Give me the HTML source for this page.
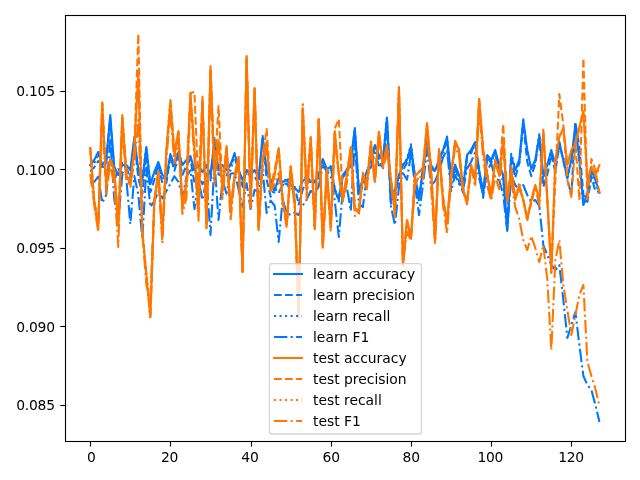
<!DOCTYPE html>
<html><head><meta charset="utf-8"><title>plot</title><style>html,body{margin:0;padding:0;background:#fff;overflow:hidden}svg{display:block}text{font-family:"DejaVu Sans","Liberation Sans",sans-serif;font-size:13.889px;fill:#000}.t{letter-spacing:-0.22px}</style></head><body>
<svg width="640" height="480" viewBox="0 0 640 480">
<rect x="0" y="0" width="640" height="480" fill="#fff"/>
<defs><clipPath id="ax"><rect x="64.75" y="15" width="560.2" height="426.3"/></clipPath></defs>
<g clip-path="url(#ax)">
<polyline points="90.21,165.00 94.22,160.00 98.23,152.00 102.24,165.00 106.25,160.00 110.26,115.00 114.27,167.00 118.28,175.00 122.29,165.00 126.30,165.00 130.31,170.00 134.32,137.00 138.33,170.00 142.34,180.00 146.35,147.00 150.36,184.00 154.37,172.00 158.37,162.00 162.38,175.00 166.39,178.00 170.40,154.00 174.41,165.00 178.42,152.00 182.43,165.00 186.44,160.00 190.45,156.00 194.46,170.00 198.47,165.00 202.48,172.00 206.49,165.00 210.50,175.00 214.51,140.00 218.52,170.00 222.53,165.00 226.54,170.00 230.55,165.00 234.56,153.00 238.57,170.00 242.58,180.00 246.59,170.00 250.60,175.00 254.61,170.00 258.62,178.00 262.63,138.00 266.64,170.00 270.65,180.00 274.66,190.00 278.67,178.00 282.68,182.00 286.69,180.00 290.69,185.00 294.70,188.00 298.71,192.00 302.72,181.00 306.73,178.00 310.74,182.00 314.75,181.00 318.76,175.00 322.77,159.00 326.78,169.00 330.79,167.00 334.80,190.00 338.81,200.00 342.82,175.00 346.83,170.00 350.84,160.00 354.85,128.00 358.86,190.00 362.87,180.00 366.88,172.00 370.89,160.00 374.90,145.00 378.91,155.00 382.92,160.00 386.93,118.00 390.94,195.00 394.95,190.00 398.96,175.00 402.97,165.00 406.98,160.00 410.99,146.00 415.00,177.00 419.01,197.00 423.02,170.00 427.02,142.00 431.03,165.00 435.04,171.00 439.05,160.00 443.06,150.00 447.07,137.00 451.08,177.00 455.09,165.00 459.10,175.00 463.11,187.00 467.12,155.00 471.13,150.00 475.14,142.00 479.15,170.00 483.16,192.00 487.17,155.00 491.18,160.00 495.19,150.00 499.20,165.00 503.21,175.00 507.22,230.00 511.23,156.00 515.24,170.00 519.25,160.00 523.26,120.00 527.27,150.00 531.28,169.00 535.29,160.00 539.30,136.00 543.31,175.00 547.32,165.00 551.33,150.00 555.34,165.00 559.34,142.00 563.35,160.00 567.36,177.00 571.37,160.00 575.38,124.00 579.39,160.00 583.40,205.00 587.41,192.00 591.42,170.00 595.43,180.00 599.44,192.00" stroke="#0077ff" stroke-width="2.083" fill="none" stroke-linejoin="round" stroke-linecap="square"/>
<polyline points="90.21,171.60 94.22,167.28 98.23,161.07 102.24,164.67 106.25,163.03 110.26,118.00 114.27,181.00 118.28,169.20 122.29,173.20 126.30,168.30 130.31,178.16 134.32,140.54 138.33,177.82 142.34,193.82 146.35,154.77 150.36,192.17 154.37,179.86 158.37,164.25 162.38,183.72 166.39,182.96 170.40,155.94 174.41,170.81 178.42,156.86 182.43,174.77 186.44,165.79 190.45,159.35 194.46,183.28 198.47,175.94 202.48,184.35 206.49,174.04 210.50,180.45 214.51,143.90 218.52,174.60 222.53,175.74 226.54,176.56 230.55,163.59 234.56,158.80 238.57,168.92 242.58,186.83 246.59,169.98 250.60,174.68 254.61,176.59 258.62,183.61 262.63,135.69 266.64,179.74 270.65,196.82 274.66,188.59 278.67,193.10 282.68,184.56 286.69,183.53 290.69,190.11 294.70,186.77 298.71,204.50 302.72,189.46 306.73,180.24 310.74,182.59 314.75,182.34 318.76,175.13 322.77,160.11 326.78,173.23 330.79,166.13 334.80,189.73 338.81,197.01 342.82,177.30 346.83,172.01 350.84,165.53 354.85,131.57 358.86,193.31 362.87,185.90 366.88,171.18 370.89,162.84 374.90,146.94 378.91,158.48 382.92,168.20 386.93,119.10 390.94,203.63 394.95,192.95 398.96,180.61 402.97,170.13 406.98,163.03 410.99,149.10 415.00,179.24 419.01,201.87 423.02,167.96 427.02,137.83 431.03,167.82 435.04,171.06 439.05,160.38 443.06,149.86 447.07,143.57 451.08,185.31 455.09,167.71 459.10,181.81 463.11,192.57 467.12,156.88 471.13,152.84 475.14,142.87 479.15,171.98 483.16,197.79 487.17,157.07 491.18,163.05 495.19,151.14 499.20,172.60 503.21,175.14 507.22,228.00 511.23,158.31 515.24,177.78 519.25,163.03 523.26,124.39 527.27,161.96 531.28,176.08 535.29,164.02 539.30,135.74 543.31,186.80 547.32,174.66 551.33,154.37 555.34,172.22 559.34,142.85 563.35,160.93 567.36,178.87 571.37,195.00 575.38,122.00 579.39,147.00 583.40,195.00 587.41,201.92 591.42,176.86 595.43,191.19 599.44,192.00" stroke="#0077ff" stroke-width="2.083" fill="none" stroke-linejoin="round" stroke-linecap="butt" stroke-dasharray="7.708,3.333"/>
<polyline points="90.21,166.66 94.22,163.42 98.23,153.90 102.24,169.38 106.25,158.24 110.26,121.28 114.27,166.66 118.28,176.51 122.29,162.87 126.30,168.80 130.31,175.82 134.32,142.21 138.33,174.50 142.34,177.33 146.35,146.65 150.36,184.61 154.37,171.20 158.37,167.37 162.38,177.55 166.39,179.93 170.40,157.46 174.41,164.15 178.42,151.27 182.43,164.36 186.44,163.49 190.45,159.02 194.46,173.73 198.47,170.24 202.48,169.93 206.49,165.32 210.50,177.44 214.51,137.95 218.52,170.40 222.53,170.04 226.54,175.31 230.55,170.23 234.56,155.13 238.57,171.36 242.58,185.24 246.59,170.88 250.60,178.01 254.61,175.98 258.62,178.90 262.63,138.17 266.64,171.97 270.65,183.80 274.66,193.45 278.67,180.47 282.68,185.67 286.69,177.20 290.69,184.42 294.70,190.49 298.71,191.21 302.72,178.97 306.73,176.38 310.74,181.01 314.75,180.82 318.76,178.40 322.77,159.27 326.78,171.24 330.79,168.03 334.80,188.97 338.81,201.41 342.82,175.62 346.83,169.74 350.84,162.26 354.85,128.97 358.86,189.70 362.87,180.46 366.88,173.92 370.89,163.01 374.90,146.40 378.91,155.43 382.92,161.52 386.93,117.51 390.94,194.18 394.95,191.65 398.96,176.69 402.97,164.62 406.98,158.81 410.99,144.28 415.00,177.58 419.01,196.61 423.02,173.93 427.02,142.18 431.03,168.78 435.04,171.14 439.05,161.76 443.06,153.18 447.07,136.48 451.08,180.58 455.09,164.71 459.10,177.98 463.11,184.40 467.12,155.19 471.13,152.99 475.14,143.98 479.15,170.47 483.16,195.00 487.17,156.82 491.18,162.06 495.19,152.97 499.20,171.55 503.21,180.86 507.22,230.00 511.23,153.80 515.24,167.28 519.25,165.38 523.26,119.22 527.27,152.45 531.28,167.78 535.29,161.45 539.30,134.16 543.31,181.89 547.32,163.94 551.33,151.63 555.34,166.44 559.34,147.62 563.35,157.74 567.36,178.90 571.37,161.37 575.38,127.59 579.39,163.42 583.40,205.61 587.41,194.72 591.42,170.88 595.43,183.40 599.44,193.69" stroke="#0077ff" stroke-width="2.083" fill="none" stroke-linejoin="round" stroke-linecap="butt" stroke-dasharray="2.083,3.438"/>
<polyline points="90.21,182.41 94.22,181.81 98.23,176.55 102.24,202.86 106.25,195.00 110.26,139.15 114.27,199.24 118.28,222.00 122.29,174.80 126.30,178.68 130.31,224.00 134.32,176.08 138.33,194.74 142.34,239.00 146.35,167.45 150.36,207.00 154.37,201.00 158.37,191.13 162.38,198.29 166.39,190.91 170.40,183.82 174.41,176.23 178.42,181.94 182.43,197.16 186.44,176.65 190.45,170.24 194.46,209.00 198.47,179.33 202.48,200.03 206.49,178.63 210.50,235.00 214.51,162.66 218.52,220.00 222.53,180.73 226.54,193.66 230.55,173.75 234.56,173.07 238.57,189.23 242.58,206.75 246.59,183.22 250.60,208.99 254.61,189.82 258.62,192.03 262.63,169.70 266.64,213.00 270.65,200.69 274.66,205.76 278.67,242.00 282.68,199.17 286.69,213.00 290.69,215.00 294.70,212.74 298.71,215.02 302.72,205.42 306.73,199.59 310.74,190.76 314.75,194.74 318.76,186.01 322.77,165.43 326.78,170.78 330.79,176.81 334.80,201.12 338.81,237.00 342.82,189.81 346.83,187.24 350.84,211.00 354.85,141.05 358.86,204.48 362.87,207.00 366.88,176.02 370.89,167.42 374.90,152.68 378.91,165.50 382.92,165.29 386.93,128.24 390.94,206.29 394.95,225.00 398.96,187.44 402.97,173.31 406.98,179.74 410.99,153.90 415.00,185.11 419.01,215.00 423.02,184.58 427.02,150.06 431.03,185.80 435.04,181.18 439.05,171.25 443.06,157.30 447.07,150.33 451.08,191.28 455.09,175.03 459.10,184.07 463.11,189.00 467.12,168.62 471.13,161.75 475.14,152.52 479.15,178.35 483.16,194.00 487.17,170.77 491.18,163.34 495.19,178.03 499.20,180.42 503.21,194.41 507.22,231.00 511.23,175.00 515.24,185.00 519.25,190.00 523.26,185.00 527.27,195.00 531.28,202.00 535.29,200.00 539.30,206.00 543.31,245.00 547.32,255.00 551.33,265.00 555.34,270.00 559.34,265.00 563.35,300.00 567.36,338.00 571.37,325.00 575.38,312.00 579.39,345.00 583.40,376.00 587.41,385.00 591.42,390.00 595.43,405.00 599.44,422.00" stroke="#0077ff" stroke-width="2.083" fill="none" stroke-linejoin="round" stroke-linecap="butt" stroke-dasharray="13.333,3.333,2.083,3.333"/>
<polyline points="90.21,148.00 94.22,200.00 98.23,225.00 102.24,103.00 106.25,185.00 110.26,160.00 114.27,170.00 118.28,225.00 122.29,115.00 126.30,175.00 130.31,183.00 134.32,150.00 138.33,73.00 142.34,232.00 146.35,275.00 150.36,317.00 154.37,200.00 158.37,172.00 162.38,235.00 166.39,150.00 170.40,103.00 174.41,156.00 178.42,131.00 182.43,208.00 186.44,185.00 190.45,94.00 194.46,150.00 198.47,211.00 202.48,101.00 206.49,225.00 210.50,66.00 214.51,175.00 218.52,140.00 222.53,190.00 226.54,146.00 230.55,210.00 234.56,175.00 238.57,157.00 242.58,272.00 246.59,56.00 250.60,205.00 254.61,89.00 258.62,228.00 262.63,160.00 266.64,142.00 270.65,190.00 274.66,175.00 278.67,148.00 282.68,200.00 286.69,225.00 290.69,166.00 294.70,200.00 298.71,316.00 302.72,109.00 306.73,190.00 310.74,137.00 314.75,226.00 318.76,119.00 322.77,245.00 326.78,170.00 330.79,227.00 334.80,131.00 338.81,175.00 342.82,200.00 346.83,175.00 350.84,147.00 354.85,209.00 358.86,213.00 362.87,175.00 366.88,185.00 370.89,144.00 374.90,180.00 378.91,132.00 382.92,165.00 386.93,145.00 390.94,180.00 394.95,210.00 398.96,87.00 402.97,264.00 406.98,220.00 410.99,238.00 415.00,176.00 419.01,172.00 423.02,169.00 427.02,123.00 431.03,170.00 435.04,240.00 439.05,149.00 443.06,200.00 447.07,222.00 451.08,175.00 455.09,141.00 459.10,150.00 463.11,190.00 467.12,201.00 471.13,165.00 475.14,180.00 479.15,99.00 483.16,150.00 487.17,175.00 491.18,195.00 495.19,160.00 499.20,175.00 503.21,140.00 507.22,202.00 511.23,170.00 515.24,200.00 519.25,185.00 523.26,200.00 527.27,220.00 531.28,200.00 535.29,185.00 539.30,200.00 543.31,131.00 547.32,200.00 551.33,273.00 555.34,160.00 559.34,137.00 563.35,128.00 567.36,165.00 571.37,150.00 575.38,144.00 579.39,127.00 583.40,111.00 587.41,180.00 591.42,167.00 595.43,175.00 599.44,165.00" stroke="#ff7700" stroke-width="2.083" fill="none" stroke-linejoin="round" stroke-linecap="square"/>
<polyline points="90.21,148.10 94.22,204.08 98.23,228.67 102.24,101.47 106.25,184.11 110.26,158.42 114.27,171.71 118.28,224.83 122.29,117.24 126.30,169.46 130.31,187.70 134.32,149.71 138.33,34.00 142.34,231.59 146.35,273.86 150.36,318.39 154.37,202.47 158.37,171.39 162.38,234.54 166.39,152.06 170.40,100.39 174.41,151.46 178.42,132.18 182.43,205.99 186.44,179.24 190.45,93.00 194.46,92.00 198.47,190.00 202.48,96.52 206.49,225.11 210.50,68.69 214.51,174.30 218.52,106.00 222.53,191.15 226.54,148.15 230.55,209.10 234.56,176.63 238.57,160.13 242.58,271.38 246.59,57.00 250.60,206.04 254.61,89.74 258.62,231.30 262.63,156.15 266.64,129.00 270.65,187.49 274.66,169.80 278.67,148.38 282.68,201.58 286.69,222.78 290.69,170.16 294.70,202.47 298.71,310.00 302.72,108.00 306.73,192.87 310.74,137.84 314.75,229.27 318.76,119.00 322.77,246.11 326.78,169.49 330.79,226.39 334.80,128.78 338.81,119.00 342.82,197.64 346.83,176.14 350.84,146.86 354.85,208.27 358.86,210.40 362.87,172.73 366.88,184.36 370.89,141.48 374.90,179.04 378.91,135.80 382.92,166.81 386.93,147.14 390.94,179.39 394.95,210.11 398.96,90.65 402.97,265.59 406.98,222.19 410.99,236.98 415.00,174.17 419.01,172.24 423.02,167.05 427.02,124.30 431.03,168.95 435.04,240.97 439.05,152.75 443.06,195.79 447.07,223.59 451.08,175.66 455.09,140.84 459.10,152.34 463.11,192.11 467.12,201.91 471.13,166.28 475.14,178.19 479.15,99.57 483.16,149.33 487.17,173.40 491.18,198.47 495.19,161.16 499.20,175.92 503.21,124.00 507.22,201.33 511.23,166.15 515.24,198.54 519.25,188.62 523.26,199.43 527.27,215.68 531.28,204.00 535.29,186.59 539.30,206.32 543.31,131.00 547.32,198.62 551.33,268.66 555.34,180.00 559.34,94.00 563.35,125.00 567.36,180.00 571.37,197.00 575.38,141.51 579.39,200.00 583.40,58.00 587.41,200.00 591.42,159.00 595.43,170.00 599.44,194.00" stroke="#ff7700" stroke-width="2.083" fill="none" stroke-linejoin="round" stroke-linecap="butt" stroke-dasharray="7.708,3.333"/>
<polyline points="90.21,147.37 94.22,200.49 98.23,221.79 102.24,100.83 106.25,186.19 110.26,159.11 114.27,170.87 118.28,225.81 122.29,116.98 126.30,176.22 130.31,184.53 134.32,149.83 138.33,71.95 142.34,230.90 146.35,274.27 150.36,315.31 154.37,199.18 158.37,171.86 162.38,235.38 166.39,149.49 170.40,100.11 174.41,155.89 178.42,131.34 182.43,209.63 186.44,185.87 190.45,93.03 194.46,148.91 198.47,214.02 202.48,102.13 206.49,227.75 210.50,69.19 214.51,173.77 218.52,140.58 222.53,190.69 226.54,146.84 230.55,210.81 234.56,175.30 238.57,157.26 242.58,269.75 246.59,56.00 250.60,203.88 254.61,89.19 258.62,227.30 262.63,160.93 266.64,143.23 270.65,190.46 274.66,175.47 278.67,148.14 282.68,199.33 286.69,224.75 290.69,165.26 294.70,200.58 298.71,316.00 302.72,102.00 306.73,188.01 310.74,138.14 314.75,226.27 318.76,119.00 322.77,244.94 326.78,169.02 330.79,225.95 334.80,132.17 338.81,175.04 342.82,200.74 346.83,177.43 350.84,148.35 354.85,208.85 358.86,211.80 362.87,175.42 366.88,184.99 370.89,142.16 374.90,179.28 378.91,132.48 382.92,165.02 386.93,144.67 390.94,178.94 394.95,210.72 398.96,87.62 402.97,264.63 406.98,218.94 410.99,239.59 415.00,176.22 419.01,171.29 423.02,169.91 427.02,122.88 431.03,169.07 435.04,241.03 439.05,148.99 443.06,199.42 447.07,221.30 451.08,176.14 455.09,143.77 459.10,147.82 463.11,189.74 467.12,200.72 471.13,164.85 475.14,178.38 479.15,99.29 483.16,149.95 487.17,173.23 491.18,195.74 495.19,158.59 499.20,176.24 503.21,142.50 507.22,201.96 511.23,171.64 515.24,199.60 519.25,182.13 523.26,200.22 527.27,220.67 531.28,199.36 535.29,185.45 539.30,200.86 543.31,129.70 547.32,197.78 551.33,272.67 555.34,159.68 559.34,136.47 563.35,129.48 567.36,167.59 571.37,149.38 575.38,145.05 579.39,128.41 583.40,112.07 587.41,181.57 591.42,166.42 595.43,176.11 599.44,168.04" stroke="#ff7700" stroke-width="2.083" fill="none" stroke-linejoin="round" stroke-linecap="butt" stroke-dasharray="2.083,3.438"/>
<polyline points="90.21,174.00 94.22,203.90 98.23,232.00 102.24,116.31 106.25,193.84 110.26,164.18 114.27,184.72 118.28,247.00 122.29,124.52 126.30,181.92 130.31,184.03 134.32,163.10 138.33,120.00 142.34,233.17 146.35,285.00 150.36,300.00 154.37,197.49 158.37,175.56 162.38,243.32 166.39,160.18 170.40,110.83 174.41,163.23 178.42,140.35 182.43,213.95 186.44,197.88 190.45,101.74 194.46,158.47 198.47,220.70 202.48,102.71 206.49,228.45 210.50,80.64 214.51,183.68 218.52,145.59 222.53,198.71 226.54,150.59 230.55,221.00 234.56,178.67 238.57,165.38 242.58,272.00 246.59,60.00 250.60,209.44 254.61,88.09 258.62,230.00 262.63,165.15 266.64,149.76 270.65,191.27 274.66,183.99 278.67,173.12 282.68,200.61 286.69,228.00 290.69,171.45 294.70,207.96 298.71,318.00 302.72,110.24 306.73,199.30 310.74,143.44 314.75,230.00 318.76,119.35 322.77,250.00 326.78,175.31 330.79,231.42 334.80,139.87 338.81,173.05 342.82,201.60 346.83,183.57 350.84,151.41 354.85,215.97 358.86,213.87 362.87,176.78 366.88,189.22 370.89,149.18 374.90,183.92 378.91,131.70 382.92,168.54 386.93,152.68 390.94,181.90 394.95,217.19 398.96,93.52 402.97,264.00 406.98,231.50 410.99,240.83 415.00,186.31 419.01,175.48 423.02,180.37 427.02,128.08 431.03,186.77 435.04,243.00 439.05,149.65 443.06,206.00 447.07,233.00 451.08,180.44 455.09,146.23 459.10,156.38 463.11,191.61 467.12,204.34 471.13,165.83 475.14,186.44 479.15,108.85 483.16,157.98 487.17,185.77 491.18,200.50 495.19,176.20 499.20,189.13 503.21,141.19 507.22,198.01 511.23,179.85 515.24,207.14 519.25,219.00 523.26,240.00 527.27,250.00 531.28,236.00 535.29,248.00 539.30,262.00 543.31,245.00 547.32,280.00 551.33,350.00 555.34,260.00 559.34,240.00 563.35,285.00 567.36,310.00 571.37,335.00 575.38,315.00 579.39,295.00 583.40,285.00 587.41,362.00 591.42,376.00 595.43,389.00 599.44,406.00" stroke="#ff7700" stroke-width="2.083" fill="none" stroke-linejoin="round" stroke-linecap="butt" stroke-dasharray="13.333,3.333,2.083,3.333"/>
</g>
<rect x="65.5" y="15.5" width="560" height="426" fill="none" stroke="#000" stroke-width="1.111" stroke-linejoin="miter"/>
<line x1="90.5" y1="441.5" x2="90.5" y2="446.6" stroke="#000" stroke-width="1.111"/>
<text class="t" x="87.05" y="462">0</text>
<line x1="170.5" y1="441.5" x2="170.5" y2="446.6" stroke="#000" stroke-width="1.111"/>
<text class="t" x="160.90" y="462">20</text>
<line x1="251.5" y1="441.5" x2="251.5" y2="446.6" stroke="#000" stroke-width="1.111"/>
<text class="t" x="241.33" y="462">40</text>
<line x1="331.5" y1="441.5" x2="331.5" y2="446.6" stroke="#000" stroke-width="1.111"/>
<text class="t" x="322.60" y="462">60</text>
<line x1="411.5" y1="441.5" x2="411.5" y2="446.6" stroke="#000" stroke-width="1.111"/>
<text class="t" x="402.60" y="462">80</text>
<line x1="491.5" y1="441.5" x2="491.5" y2="446.6" stroke="#000" stroke-width="1.111"/>
<text class="t" x="477.40" y="462">100</text>
<line x1="571.5" y1="441.5" x2="571.5" y2="446.6" stroke="#000" stroke-width="1.111"/>
<text class="t" x="558.15" y="462">120</text>
<line x1="60.3" y1="91.5" x2="65.5" y2="91.5" stroke="#000" stroke-width="1.111"/>
<text class="t" x="16.2" y="96">0.105</text>
<line x1="60.3" y1="169.5" x2="65.5" y2="169.5" stroke="#000" stroke-width="1.111"/>
<text class="t" x="16.2" y="175">0.100</text>
<line x1="60.3" y1="248.5" x2="65.5" y2="248.5" stroke="#000" stroke-width="1.111"/>
<text class="t" x="16.2" y="253">0.095</text>
<line x1="60.3" y1="326.5" x2="65.5" y2="326.5" stroke="#000" stroke-width="1.111"/>
<text class="t" x="16.2" y="332">0.090</text>
<line x1="60.3" y1="405.5" x2="65.5" y2="405.5" stroke="#000" stroke-width="1.111"/>
<text class="t" x="16.2" y="410">0.085</text>
<rect x="269.45" y="263.6" width="152.00" height="170.40" rx="2.778" ry="2.778" fill="#fff" stroke="#ccc" stroke-width="1.389" opacity="0.8"/>
<line x1="274" y1="274" x2="302" y2="274" stroke="#0077ff" stroke-width="2.083" fill="none" stroke-linejoin="round" stroke-linecap="square"/>
<text x="313" y="279">learn accuracy</text>
<line x1="274" y1="295" x2="302" y2="295" stroke="#0077ff" stroke-width="2.083" fill="none" stroke-linejoin="round" stroke-linecap="butt" stroke-dasharray="7.708,3.333"/>
<text x="313" y="300">learn precision</text>
<line x1="274" y1="316" x2="302" y2="316" stroke="#0077ff" stroke-width="2.083" fill="none" stroke-linejoin="round" stroke-linecap="butt" stroke-dasharray="2.083,3.438"/>
<text x="313" y="321">learn recall</text>
<line x1="274" y1="337" x2="302" y2="337" stroke="#0077ff" stroke-width="2.083" fill="none" stroke-linejoin="round" stroke-linecap="butt" stroke-dasharray="13.333,3.333,2.083,3.333"/>
<text x="313" y="342">learn F1</text>
<line x1="274" y1="358" x2="302" y2="358" stroke="#ff7700" stroke-width="2.083" fill="none" stroke-linejoin="round" stroke-linecap="square"/>
<text x="313" y="363">test accuracy</text>
<line x1="274" y1="379" x2="302" y2="379" stroke="#ff7700" stroke-width="2.083" fill="none" stroke-linejoin="round" stroke-linecap="butt" stroke-dasharray="7.708,3.333"/>
<text x="313" y="384">test precision</text>
<line x1="274" y1="400" x2="302" y2="400" stroke="#ff7700" stroke-width="2.083" fill="none" stroke-linejoin="round" stroke-linecap="butt" stroke-dasharray="2.083,3.438"/>
<text x="313" y="405">test recall</text>
<line x1="274" y1="421" x2="302" y2="421" stroke="#ff7700" stroke-width="2.083" fill="none" stroke-linejoin="round" stroke-linecap="butt" stroke-dasharray="13.333,3.333,2.083,3.333"/>
<text x="313" y="426">test F1</text>
</svg></body></html>
